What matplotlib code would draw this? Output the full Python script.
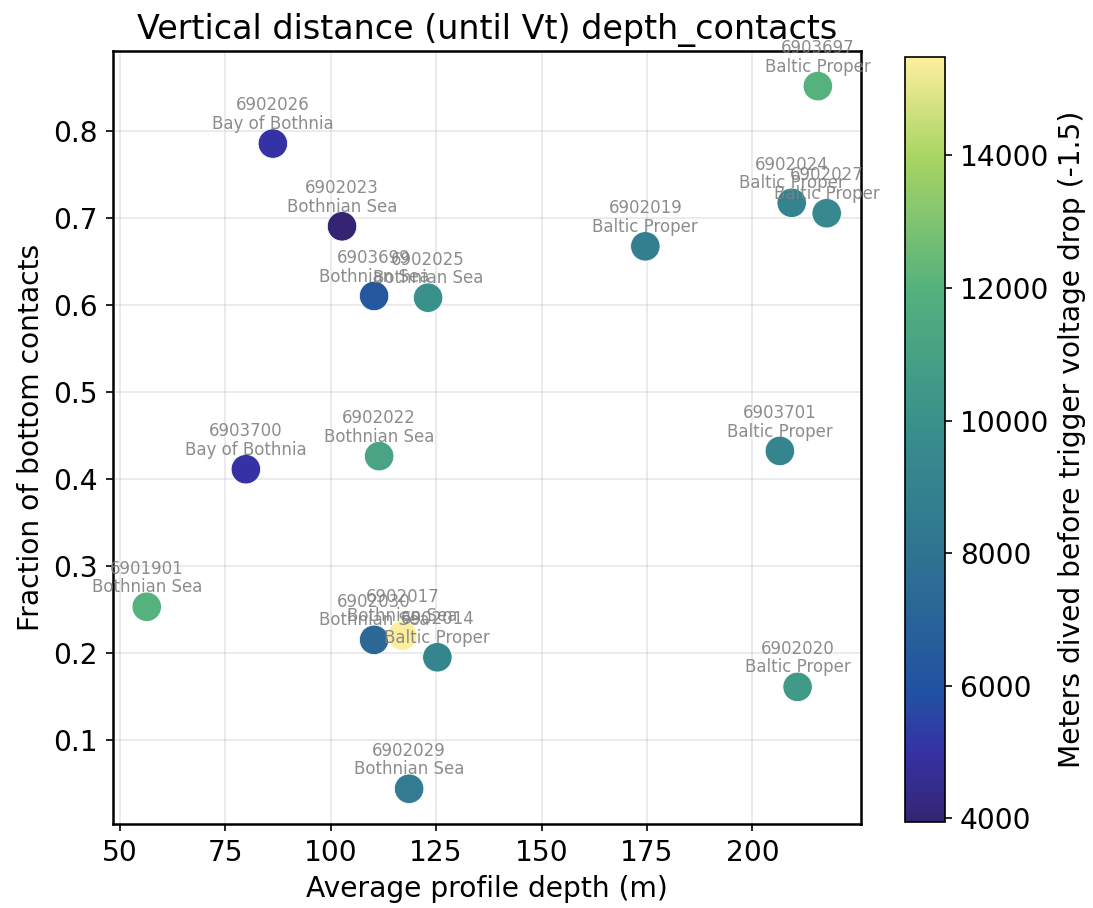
import matplotlib
matplotlib.use("Agg")
import matplotlib.pyplot as plt
from matplotlib.colors import LinearSegmentedColormap

# float id, region, mean profile depth (m), bottom-contact fraction, metres dived
float_ids = ["6902026", "6902023", "6903699", "6902025", "6903697", "6902024",
             "6902027", "6902019", "6903701", "6902020", "6902022", "6903700",
             "6901901", "6902030", "6902017", "6902014", "6902029"]
regions = ["Bay of Bothnia", "Bothnian Sea", "Bothnian Sea", "Bothnian Sea",
           "Baltic Proper", "Baltic Proper", "Baltic Proper", "Baltic Proper",
           "Baltic Proper", "Baltic Proper", "Bothnian Sea", "Bay of Bothnia",
           "Bothnian Sea", "Bothnian Sea", "Bothnian Sea", "Baltic Proper",
           "Bothnian Sea"]
avg_depth = [86.3, 102.7, 110.3, 123.1, 215.5, 209.3, 217.6, 174.6, 206.5,
             210.7, 111.5, 79.9, 56.4, 110.3, 117.0, 125.3, 118.6]
frac_bottom = [0.785, 0.690, 0.610, 0.608, 0.851, 0.717, 0.705, 0.667, 0.432,
               0.161, 0.426, 0.411, 0.253, 0.215, 0.220, 0.195, 0.044]
meters_dived = [5000, 3950, 6300, 10000, 12000, 9000, 9500, 8800, 9200,
                10600, 11200, 5000, 12000, 7300, 15480, 9200, 8500]

# haline-like ramp: deep navy -> blue -> teal -> green -> pale yellow
haline = LinearSegmentedColormap.from_list("haline", [
    (0.00, "#2a186c"), (0.09, "#2a27a0"), (0.17, "#15499e"),
    (0.35, "#246c8b"), (0.52, "#2e8a86"), (0.70, "#4cae76"),
    (0.87, "#a3d25a"), (1.00, "#fdee99")])

fig = plt.figure(figsize=(1093 / 150, 908 / 150), dpi=150)
ax = fig.add_axes([0.103, 0.0925, 0.685, 0.851])
cax = fig.add_axes([0.828, 0.095, 0.037, 0.842])

sc = ax.scatter(avg_depth, frac_bottom, c=meters_dived, cmap=haline,
                vmin=3950, vmax=15480, s=200, alpha=0.95,
                edgecolors="white", linewidths=0.4, zorder=3)
for fid, reg, x, y in zip(float_ids, regions, avg_depth, frac_bottom):
    ax.annotate(f"{fid}\n{reg}", (x, y), xytext=(0, 5),
                textcoords="offset points", ha="center", va="bottom",
                multialignment="center", fontsize=8, color="gray",
                alpha=0.9, linespacing=1.05, zorder=4)

ax.set_xlim(48.3, 225.8)
ax.set_ylim(0.0035, 0.891)
ax.set_xticks([50, 75, 100, 125, 150, 175, 200])
ax.set_yticks([0.1, 0.2, 0.3, 0.4, 0.5, 0.6, 0.7, 0.8])
ax.grid(alpha=0.3)
ax.tick_params(labelsize=13.5)
for sp in ax.spines.values():
    sp.set_linewidth(1.2)
ax.set_xlabel("Average profile depth (m)", fontsize=13.5)
ax.set_ylabel("Fraction of bottom contacts", fontsize=13.5)
ax.set_title("Vertical distance (until Vt) depth_contacts", fontsize=16)

cb = fig.colorbar(sc, cax=cax)
cb.set_ticks([4000, 6000, 8000, 10000, 12000, 14000])
cb.ax.tick_params(labelsize=13.5)
cb.set_label("Meters dived before trigger voltage drop (-1.5)", fontsize=13.5)

fig.savefig("out.png", dpi=150)
